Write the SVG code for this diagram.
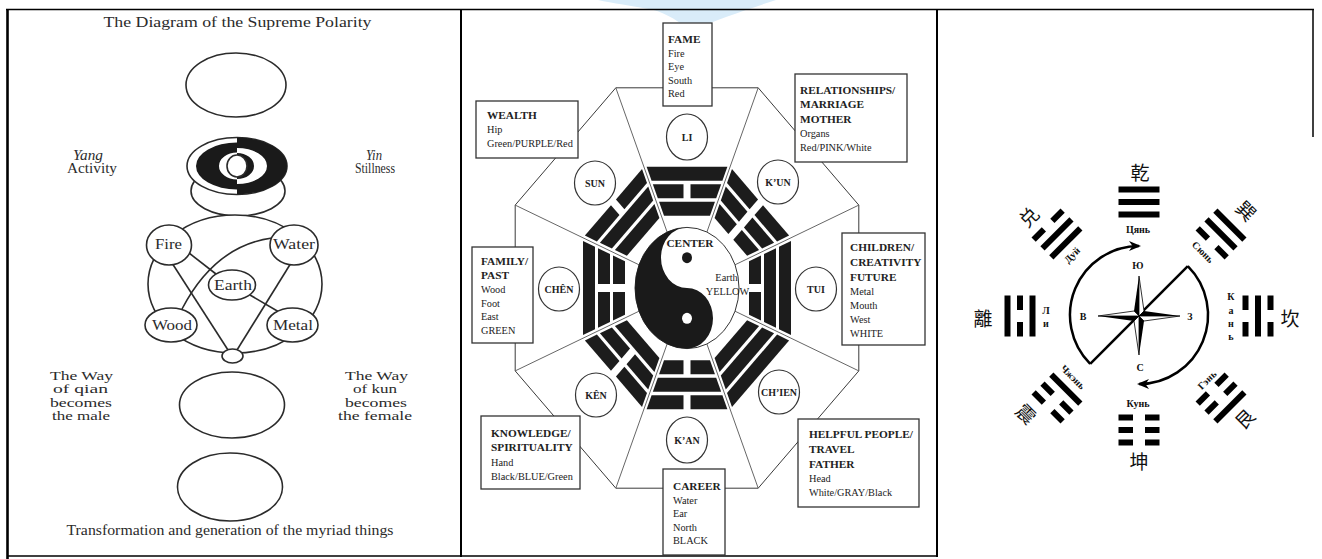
<svg xmlns="http://www.w3.org/2000/svg" width="1322" height="559" viewBox="0 0 1322 559">
<style>
.frame{stroke:#000;fill:none}
.ln{fill:none;stroke:#2b2b2b;stroke-width:1.6}
.wt{fill:#fff;stroke:#2b2b2b;stroke-width:1.6}
.lt{font-family:"Liberation Serif","Times New Roman",serif;font-size:14px;fill:#2b2b2b;text-anchor:middle}
.lw{font-family:"Liberation Serif","Times New Roman",serif;font-size:12.5px;fill:#2b2b2b;text-anchor:middle}
.it{font-style:italic}
.oct{fill:none;stroke:#3a3a3a;stroke-width:1}
.rad{stroke:#555;stroke-width:0.9}
.box{fill:#fff;stroke:#333;stroke-width:1.3}
.hd{font-family:"Liberation Serif",serif;font-weight:bold;font-size:11.3px;fill:#222}
.bd{font-family:"Liberation Serif",serif;font-size:10.3px;fill:#222}
.tc{fill:#fff;stroke:#333;stroke-width:1.2}
.tl{font-family:"Liberation Serif",serif;font-weight:bold;font-size:10px;fill:#222;text-anchor:middle}
.cy{font-family:"Liberation Serif",serif;font-weight:bold;font-size:10px;fill:#111;text-anchor:middle}
.cyc{font-family:"Liberation Serif",serif;font-weight:bold;font-size:10px;fill:#111;text-anchor:middle;dominant-baseline:central}
.cjk{font-family:"Noto Sans CJK SC","Noto Sans CJK JP",sans-serif;font-size:19px;fill:#111;text-anchor:middle;dominant-baseline:central}
.arc{fill:none;stroke:#000;stroke-width:2.5}
.sw{fill:#fff;stroke:#000;stroke-width:0.8}
</style>
<defs>
<polygon id="s1" points="-27.95,-74 27.95,-74 22.98,-62 -22.98,-62"/>
<g id="b1"><polygon points="-27.95,-74 -3.5,-74 -3.5,-62 -22.98,-62"/><polygon points="3.5,-74 27.95,-74 22.98,-62 3.5,-62"/></g>
<polygon id="s2" points="-34.16,-89 34.16,-89 29.19,-77 -29.19,-77"/>
<g id="b2"><polygon points="-34.16,-89 -3.5,-89 -3.5,-77 -29.19,-77"/><polygon points="3.5,-89 34.16,-89 29.19,-77 3.5,-77"/></g>
<polygon id="s3" points="-40.38,-104 40.38,-104 35.41,-92 -35.41,-92"/>
<g id="b3"><polygon points="-40.38,-104 -3.5,-104 -3.5,-92 -35.41,-92"/><polygon points="3.5,-104 40.38,-104 35.41,-92 3.5,-92"/></g>
<rect id="rS" x="-20.5" y="-3" width="41" height="6"/>
<g id="rB"><rect x="-20.5" y="-3" width="14.5" height="6"/><rect x="6" y="-3" width="14.5" height="6"/></g>
<marker id="arr" viewBox="0 0 12 12" refX="10" refY="6" markerWidth="12" markerHeight="12" markerUnits="userSpaceOnUse" orient="auto"><path d="M0,1 L12,6 L0,11 L3.5,6 Z" fill="#000"/></marker>
</defs>

<rect width="1322" height="559" fill="#fff"/>
<path d="M598,0 L776,0 C748,9 716,20 690,31 C680,22 668,14 652,9.5 C632,6 612,3 598,0 Z" fill="#d9ecf9"/>

<g id="frame" class="frame">
<line x1="6" y1="9.5" x2="1314" y2="9.5" stroke-width="1.5"/>
<line x1="7.5" y1="9" x2="7.5" y2="559" stroke-width="2.6"/>
<line x1="461" y1="9" x2="461" y2="557" stroke-width="2"/>
<line x1="937" y1="9" x2="937" y2="557" stroke-width="2"/>
<line x1="1313" y1="9" x2="1313" y2="137" stroke-width="1.5"/>
<line x1="7" y1="556" x2="937" y2="556" stroke-width="1.5"/>
</g>

<!-- LEFT PANEL -->
<g id="left-panel">
<text class="lt" x="237.5" y="27" textLength="268" lengthAdjust="spacingAndGlyphs">The Diagram of the Supreme Polarity</text>
<g id="wuji"><ellipse class="ln" cx="236" cy="85" rx="50" ry="32"/></g>
<g id="neck"><ellipse class="ln" cx="238" cy="191" rx="47" ry="25"/></g>
<g id="yinyang-rings">
<ellipse class="wt" cx="237" cy="166" rx="50" ry="28.5"/>
<path d="M237,142.5 A41,23.5 0 0 0 237,189.5 L237,179.5 A18,13.5 0 0 1 237,152.5 Z" fill="#1a1a1a"/>
<path d="M237,137.5 A50,28.5 0 0 1 237,194.5 L237,184 A30,18 0 0 0 237,148 Z" fill="#1a1a1a"/>
<path d="M237,153 A17,13 0 0 1 237,179 L237,177 A10,11 0 0 0 237,155 Z" fill="#1a1a1a"/>
<ellipse class="wt" cx="237" cy="166" rx="10" ry="11"/>
</g>
<text class="lt it" x="88" y="160" textLength="30" lengthAdjust="spacingAndGlyphs">Yang</text>
<text class="lt" x="92" y="173" textLength="50" lengthAdjust="spacingAndGlyphs">Activity</text>
<text class="lt it" x="374" y="160" textLength="16" lengthAdjust="spacingAndGlyphs">Yin</text>
<text class="lt" x="375" y="173" textLength="40" lengthAdjust="spacingAndGlyphs">Stillness</text>

<g id="five-phases"><ellipse class="wt" cx="235" cy="284" rx="87" ry="69"/></g>
<g id="phase-connectors" class="ln">
<path d="M172,263 L228,350"/>
<path d="M291,263 L237,350"/>
<path d="M189,253 L216,274"/>
<path d="M250,295 L279,312"/>
<path d="M272,238 C235,243 205,265 182,309"/>
</g>
<g id="fire"><ellipse class="wt" cx="169" cy="245" rx="22.5" ry="20"/><text class="lt" x="168.5" y="249" textLength="27" lengthAdjust="spacingAndGlyphs">Fire</text></g>
<g id="water"><ellipse class="wt" cx="294" cy="245" rx="24" ry="20"/><text class="lt" x="294" y="249" textLength="42" lengthAdjust="spacingAndGlyphs">Water</text></g>
<g id="earth"><ellipse class="wt" cx="232" cy="285" rx="23.5" ry="15"/><text class="lt" x="233" y="290" textLength="38" lengthAdjust="spacingAndGlyphs">Earth</text></g>
<g id="wood"><ellipse class="wt" cx="171" cy="325" rx="26" ry="17"/><text class="lt" x="172" y="330" textLength="40" lengthAdjust="spacingAndGlyphs">Wood</text></g>
<g id="metal"><ellipse class="wt" cx="292.5" cy="325" rx="25.5" ry="17"/><text class="lt" x="293" y="330" textLength="40" lengthAdjust="spacingAndGlyphs">Metal</text></g>
<g id="union"><ellipse class="wt" cx="232.5" cy="356" rx="10.5" ry="7"/></g>

<g id="qian-text">
<text class="lw" x="81.5" y="380" textLength="63" lengthAdjust="spacingAndGlyphs">The Way</text>
<text class="lw" x="80.5" y="393" textLength="55" lengthAdjust="spacingAndGlyphs">of qian</text>
<text class="lw" x="81" y="407" textLength="62" lengthAdjust="spacingAndGlyphs">becomes</text>
<text class="lw" x="81" y="420" textLength="58" lengthAdjust="spacingAndGlyphs">the male</text>
</g>
<g id="kun-text">
<text class="lw" x="376.5" y="380" textLength="63" lengthAdjust="spacingAndGlyphs">The Way</text>
<text class="lw" x="375" y="393" textLength="44" lengthAdjust="spacingAndGlyphs">of kun</text>
<text class="lw" x="376" y="407" textLength="62" lengthAdjust="spacingAndGlyphs">becomes</text>
<text class="lw" x="375" y="420" textLength="74" lengthAdjust="spacingAndGlyphs">the female</text>
</g>
<g id="male-female"><ellipse class="ln" cx="232" cy="405" rx="52.5" ry="33"/></g>
<g id="myriad"><ellipse class="ln" cx="230" cy="487" rx="52.5" ry="34"/></g>
<text class="lt" x="230" y="535" font-size="13" textLength="327" lengthAdjust="spacingAndGlyphs">Transformation and generation of the myriad things</text>
</g>

<!-- MIDDLE PANEL -->
<g id="middle-panel">
<g id="octagon-connectors">
<polygon class="oct" points="615.8,87.8 758.2,87.8 858.8,205.1 858.8,370.9 758.2,488.2 615.8,488.2 515.2,370.9 515.2,205.1"/>
<g class="rad">
<line x1="667.1" y1="232" x2="615.8" y2="87.8"/>
<line x1="706.9" y1="232" x2="758.2" y2="87.8"/>
<line x1="735" y1="264.8" x2="858.8" y2="205.1"/>
<line x1="735" y1="311.2" x2="858.8" y2="370.9"/>
<line x1="706.9" y1="344" x2="758.2" y2="488.2"/>
<line x1="667.1" y1="344" x2="615.8" y2="488.2"/>
<line x1="639" y1="311.2" x2="515.2" y2="370.9"/>
<line x1="639" y1="264.8" x2="515.2" y2="205.1"/>
</g>
</g>
<g id="trigrams" fill="#1c1c1c" transform="translate(687,288) scale(1,1.165)">
<g id="tg-li"><use href="#s1"/><use href="#b2"/><use href="#s3"/></g>
<g id="tg-kun" transform="rotate(45)"><use href="#b1"/><use href="#b2"/><use href="#b3"/></g>
<g id="tg-tui" transform="rotate(90)"><use href="#b1"/><use href="#s2"/><use href="#s3"/></g>
<g id="tg-chien" transform="rotate(135)"><use href="#s1"/><use href="#s2"/><use href="#s3"/></g>
<g id="tg-kan" transform="rotate(180)"><use href="#b1"/><use href="#s2"/><use href="#b3"/></g>
<g id="tg-ken" transform="rotate(225)"><use href="#s1"/><use href="#b2"/><use href="#b3"/></g>
<g id="tg-chen" transform="rotate(270)"><use href="#b1"/><use href="#b2"/><use href="#s3"/></g>
<g id="tg-sun" transform="rotate(315)"><use href="#s1"/><use href="#s2"/><use href="#b3"/></g>
</g>
<g id="center">
<ellipse cx="687" cy="288" rx="52" ry="60.6" fill="#fff" stroke="#333" stroke-width="1"/>
<path d="M687,227.4 A52,60.6 0 0 0 687,348.6 A26,30.3 0 0 0 687,288 A26,30.3 0 0 1 687,227.4 Z" fill="#1a1a1a"/>
<ellipse cx="687" cy="257.7" rx="5" ry="5.5" fill="#1a1a1a"/>
<ellipse cx="687" cy="318.3" rx="5" ry="5.5" fill="#fff"/>
<text class="hd" x="690" y="247" text-anchor="middle" font-size="11">CENTER</text>
<text class="bd" x="726.5" y="281" text-anchor="middle" font-size="11">Earth</text>
<text class="bd" x="727.5" y="295" text-anchor="middle" font-size="9.5">YELLOW</text>
</g>
<g id="c-li"><ellipse class="tc" cx="687" cy="137" rx="20.5" ry="23"/><text class="tl" x="687" y="140.5">LI</text></g>
<g id="c-kun"><ellipse class="tc" cx="778" cy="182" rx="20.5" ry="22"/><text class="tl" x="778" y="185.5">K’UN</text></g>
<g id="c-tui"><ellipse class="tc" cx="816" cy="289" rx="20.5" ry="22"/><text class="tl" x="816" y="292.5">TUI</text></g>
<g id="c-chien"><ellipse class="tc" cx="779" cy="392" rx="20.5" ry="22"/><text class="tl" x="779" y="395.5">CH’IEN</text></g>
<g id="c-kan"><ellipse class="tc" cx="687" cy="440" rx="20.5" ry="23"/><text class="tl" x="687" y="443.5">K’AN</text></g>
<g id="c-ken"><ellipse class="tc" cx="596" cy="395" rx="20.5" ry="22"/><text class="tl" x="596" y="398.5">KÊN</text></g>
<g id="c-chen"><ellipse class="tc" cx="559" cy="289" rx="20.5" ry="22"/><text class="tl" x="559" y="292.5">CHÊN</text></g>
<g id="c-sun"><ellipse class="tc" cx="595" cy="183" rx="20.5" ry="22"/><text class="tl" x="595" y="186.5">SUN</text></g>

<g id="box-fame"><rect class="box" x="663" y="23" width="49" height="83"/>
<text class="hd" x="668" y="43">FAME</text><text class="bd" x="668" y="57">Fire</text><text class="bd" x="668" y="70">Eye</text><text class="bd" x="668" y="84">South</text><text class="bd" x="668" y="97">Red</text></g>
<g id="box-wealth"><rect class="box" x="476" y="101" width="102" height="57"/>
<text class="hd" x="487" y="119">WEALTH</text><text class="bd" x="487" y="133">Hip</text><text class="bd" x="487" y="147">Green/PURPLE/Red</text></g>
<g id="box-family"><rect class="box" x="472" y="247" width="61" height="96"/>
<text class="hd" x="481" y="265">FAMILY/</text><text class="hd" x="481" y="279">PAST</text><text class="bd" x="481" y="293">Wood</text><text class="bd" x="481" y="307">Foot</text><text class="bd" x="481" y="320">East</text><text class="bd" x="481" y="334">GREEN</text></g>
<g id="box-knowledge"><rect class="box" x="481" y="416" width="99" height="73"/>
<text class="hd" x="491" y="437">KNOWLEDGE/</text><text class="hd" x="491" y="451">SPIRITUALITY</text><text class="bd" x="491" y="466">Hand</text><text class="bd" x="491" y="480">Black/BLUE/Green</text></g>
<g id="box-career"><rect class="box" x="663" y="469" width="62" height="86"/>
<text class="hd" x="673" y="490">CAREER</text><text class="bd" x="673" y="504">Water</text><text class="bd" x="673" y="517">Ear</text><text class="bd" x="673" y="531">North</text><text class="bd" x="673" y="544">BLACK</text></g>
<g id="box-relationships"><rect class="box" x="795" y="74" width="112" height="88"/>
<text class="hd" x="800" y="94">RELATIONSHIPS/</text><text class="hd" x="800" y="108">MARRIAGE</text><text class="hd" x="800" y="123">MOTHER</text><text class="bd" x="800" y="137">Organs</text><text class="bd" x="800" y="151">Red/PINK/White</text></g>
<g id="box-children"><rect class="box" x="842" y="233" width="83" height="112"/>
<text class="hd" x="850" y="251">CHILDREN/</text><text class="hd" x="850" y="266">CREATIVITY</text><text class="hd" x="850" y="281">FUTURE</text><text class="bd" x="850" y="295">Metal</text><text class="bd" x="850" y="309">Mouth</text><text class="bd" x="850" y="323">West</text><text class="bd" x="850" y="337">WHITE</text></g>
<g id="box-helpful"><rect class="box" x="798" y="419" width="121" height="88"/>
<text class="hd" x="809" y="438">HELPFUL PEOPLE/</text><text class="hd" x="809" y="453">TRAVEL</text><text class="hd" x="809" y="468">FATHER</text><text class="bd" x="809" y="482">Head</text><text class="bd" x="809" y="496">White/GRAY/Black</text></g>
</g>

<!-- RIGHT PANEL -->
<g id="right-panel">
<g id="sequence-connectors">
<path class="arc" d="M1090.2,363.8 A69,69 0 0 1 1139,246" marker-end="url(#arr)"/>
<path class="arc" d="M1090.2,363.8 L1187.8,266.2"/>
<path class="arc" d="M1187.8,266.2 A69,69 0 0 1 1139,384" marker-end="url(#arr)"/>
</g>
<g id="compass">
<polygon fill="#000" points="1139,316 1139,276 1134,311"/>
<polygon class="sw" points="1139,316 1139,276 1144,311"/>
<polygon fill="#000" points="1139,316 1180,316 1144,311"/>
<polygon class="sw" points="1139,316 1180,316 1144,321"/>
<polygon fill="#000" points="1139,316 1139,355 1144,321"/>
<polygon class="sw" points="1139,316 1139,355 1134,321"/>
<polygon fill="#000" points="1139,316 1098,316 1134,321"/>
<polygon class="sw" points="1139,316 1098,316 1134,311"/>
<text class="cy" x="1138" y="269">Ю</text>
<text class="cy" x="1083" y="320">В</text>
<text class="cy" x="1190" y="320">З</text>
<text class="cy" x="1140" y="371">С</text>
</g>
<g id="t-qian"><g transform="translate(1139,316) translate(0,-114)"><use href="#rS" y="-12.5"/><use href="#rS"/><use href="#rS" y="12.5"/></g>
<text class="cjk" x="1140" y="171">乾</text><text class="cy" x="1138" y="233">Цянь</text></g>
<g id="t-xun"><g transform="translate(1139,316) rotate(45) translate(0,-116)"><use href="#rS" y="-12.5"/><use href="#rS"/><use href="#rB" y="12.5"/></g>
<text class="cjk" transform="translate(1247,210) rotate(45)">巽</text><text class="cyc" transform="translate(1203,252) rotate(45)">Сюнь</text></g>
<g id="t-kan"><g transform="translate(1139,316) rotate(90) translate(0,-119)"><use href="#rB" y="-12.5"/><use href="#rS"/><use href="#rB" y="12.5"/></g>
<text class="cjk" x="1290" y="317">坎</text>
<text class="cy" x="1231" y="300">К</text><text class="cy" x="1231" y="314">а</text><text class="cy" x="1231" y="327">н</text><text class="cy" x="1231" y="340">ь</text></g>
<g id="t-gen"><g transform="translate(1139,316) rotate(135) translate(0,-116)"><use href="#rS" y="-12.5"/><use href="#rB"/><use href="#rB" y="12.5"/></g>
<text class="cjk" transform="translate(1244,418) rotate(-45)">艮</text><text class="cyc" transform="translate(1207,380) rotate(-45)">Гэнь</text></g>
<g id="t-kun"><g transform="translate(1139,316) rotate(180) translate(0,-114)"><use href="#rB" y="-12.5"/><use href="#rB"/><use href="#rB" y="12.5"/></g>
<text class="cjk" x="1139" y="460">坤</text><text class="cy" x="1138" y="407">Кунь</text></g>
<g id="t-zhen"><g transform="translate(1139,316) rotate(225) translate(0,-116)"><use href="#rB" y="-12.5"/><use href="#rB"/><use href="#rS" y="12.5"/></g>
<text class="cjk" transform="translate(1027,413) rotate(45)">震</text><text class="cyc" transform="translate(1073,377) rotate(45)">Чжэнь</text></g>
<g id="t-li"><g transform="translate(1139,316) rotate(270) translate(0,-119)"><use href="#rS" y="-12.5"/><use href="#rB"/><use href="#rS" y="12.5"/></g>
<text class="cjk" x="983" y="317">離</text>
<text class="cy" x="1046" y="314">Л</text><text class="cy" x="1046" y="327">и</text></g>
<g id="t-dui"><g transform="translate(1139,316) rotate(315) translate(0,-116)"><use href="#rB" y="-12.5"/><use href="#rS"/><use href="#rS" y="12.5"/></g>
<text class="cjk" transform="translate(1028,216) rotate(-45)">兑</text><text class="cyc" transform="translate(1072,255) rotate(-45)">Дуй</text></g>
</g>
</svg>
